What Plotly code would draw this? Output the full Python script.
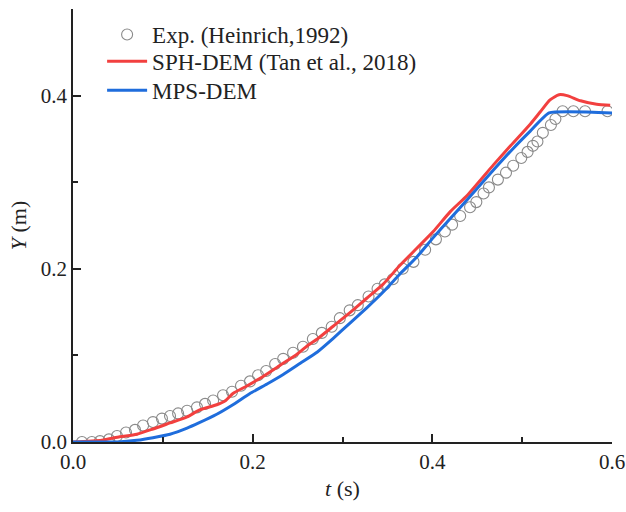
import plotly.graph_objects as go

# Experimental data (Heinrich, 1992)
exp_t = [0.010, 0.021, 0.030, 0.040, 0.049, 0.059, 0.069, 0.078, 0.089, 0.099,
         0.108, 0.117, 0.127, 0.138, 0.147, 0.156, 0.167, 0.177, 0.187, 0.197,
         0.206, 0.215, 0.225, 0.234, 0.245, 0.256, 0.267, 0.277, 0.288, 0.297,
         0.308, 0.317, 0.329, 0.339, 0.347, 0.356, 0.367, 0.379, 0.392, 0.404,
         0.414, 0.422, 0.431, 0.442, 0.449, 0.457, 0.463, 0.473, 0.482, 0.490,
         0.499, 0.506, 0.512, 0.517, 0.523, 0.532, 0.537, 0.545, 0.557, 0.570,
         0.595]
exp_y = [0.000, 0.000, 0.001, 0.003, 0.007, 0.011, 0.014, 0.019, 0.023, 0.027,
         0.030, 0.033, 0.036, 0.040, 0.044, 0.048, 0.054, 0.058, 0.065, 0.070,
         0.077, 0.082, 0.090, 0.096, 0.103, 0.110, 0.119, 0.126, 0.133, 0.143,
         0.152, 0.158, 0.168, 0.177, 0.182, 0.188, 0.200, 0.208, 0.222, 0.234,
         0.243, 0.251, 0.261, 0.271, 0.277, 0.287, 0.294, 0.303, 0.311, 0.319,
         0.328, 0.335, 0.342, 0.347, 0.357, 0.366, 0.373, 0.382, 0.382, 0.382,
         0.382]

# SPH-DEM (Tan et al., 2018)
sph_t = [0.000, 0.032, 0.052, 0.071, 0.089, 0.108, 0.127, 0.141, 0.160, 0.170,
         0.178, 0.194, 0.212, 0.231, 0.249, 0.262, 0.272, 0.290, 0.308, 0.327,
         0.345, 0.364, 0.383, 0.401, 0.420, 0.439, 0.468, 0.487, 0.509, 0.520,
         0.531, 0.541, 0.550, 0.565, 0.583, 0.598]
sph_y = [0.000, 0.002, 0.006, 0.009, 0.015, 0.022, 0.029, 0.037, 0.043, 0.048,
         0.056, 0.065, 0.076, 0.089, 0.101, 0.112, 0.119, 0.134, 0.149, 0.166,
         0.182, 0.204, 0.224, 0.243, 0.266, 0.285, 0.320, 0.342, 0.367, 0.381,
         0.395, 0.401, 0.400, 0.394, 0.390, 0.389]

# MPS-DEM
mps_t = [0.000, 0.050, 0.071, 0.089, 0.108, 0.127, 0.140, 0.160, 0.178, 0.197,
         0.216, 0.234, 0.253, 0.272, 0.290, 0.308, 0.327, 0.345, 0.364, 0.383,
         0.401, 0.420, 0.439, 0.468, 0.490, 0.509, 0.530, 0.600]
mps_y = [0.000, 0.000, 0.002, 0.005, 0.009, 0.016, 0.022, 0.032, 0.043, 0.056,
         0.067, 0.078, 0.091, 0.104, 0.120, 0.137, 0.155, 0.173, 0.194, 0.214,
         0.236, 0.258, 0.280, 0.314, 0.339, 0.359, 0.380, 0.380]

x_ticks = [0.0, 0.2, 0.4, 0.6]
y_ticks = [0.0, 0.2, 0.4]

FONT = "Liberation Serif"
LEG_FS = 23
TICK_FS = 21
TITLE_FS = 22

fig = go.Figure()
fig.add_trace(go.Scatter(
    x=exp_t, y=exp_y, mode="markers", name="Exp. (Heinrich,1992)",
    legend="legend",
    marker=dict(symbol="circle-open", size=11, color="#8a8a8a",
                line=dict(width=1.1, color="#8a8a8a"))))
fig.add_trace(go.Scatter(
    x=sph_t, y=sph_y, mode="lines", name="SPH-DEM (Tan et al., 2018)",
    legend="legend2",
    line=dict(color="#f2403f", width=3, shape="spline", smoothing=0.6)))
fig.add_trace(go.Scatter(
    x=mps_t, y=mps_y, mode="lines", name="MPS-DEM",
    legend="legend3",
    line=dict(color="#1f6ddc", width=3, shape="spline", smoothing=0.4)))

axis_common = dict(
    showline=True, linecolor="#222222", linewidth=1.5,
    ticks="inside", ticklen=8, tickwidth=1.5, tickcolor="#222222",
    showgrid=False, zeroline=False, tickformat=".1f", automargin=False,
    tickfont=dict(family=FONT, size=TICK_FS, color="#222222"),
    minor=dict(ticks="inside", ticklen=5, tickwidth=1.5, tickcolor="#222222",
               dtick=0.1, showgrid=False),
)

leg_common = dict(x=0.054, xanchor="left", yanchor="middle",
                  bgcolor="rgba(0,0,0,0)",
                  font=dict(family=FONT, size=LEG_FS, color="#222222"),
                  itemwidth=40)

fig.update_layout(
    width=626, height=512,
    margin=dict(l=73, r=14, t=9, b=70),
    plot_bgcolor="white", paper_bgcolor="white",
    font=dict(family=FONT, size=TITLE_FS, color="#222222"),
    showlegend=True,
    legend=dict(y=0.941, **leg_common),
    legend2=dict(y=0.879, **leg_common),
    legend3=dict(y=0.812, **leg_common),
    xaxis=dict(range=[0, 0.6], tickvals=x_ticks,
               title=dict(text="<i>t</i> (s)", font=dict(family=FONT, size=TITLE_FS),
                          standoff=8),
               **axis_common),
    yaxis=dict(range=[0, 0.5], tickvals=y_ticks,
               title=dict(text="<i>Y</i> (m)", font=dict(family=FONT, size=TITLE_FS),
                          standoff=8),
               **axis_common),
)

fig.write_html(
    "out.html",
    config={"displayModeBar": False},
    post_script="document.body.style.margin='0';document.body.style.overflow='hidden';",
)
